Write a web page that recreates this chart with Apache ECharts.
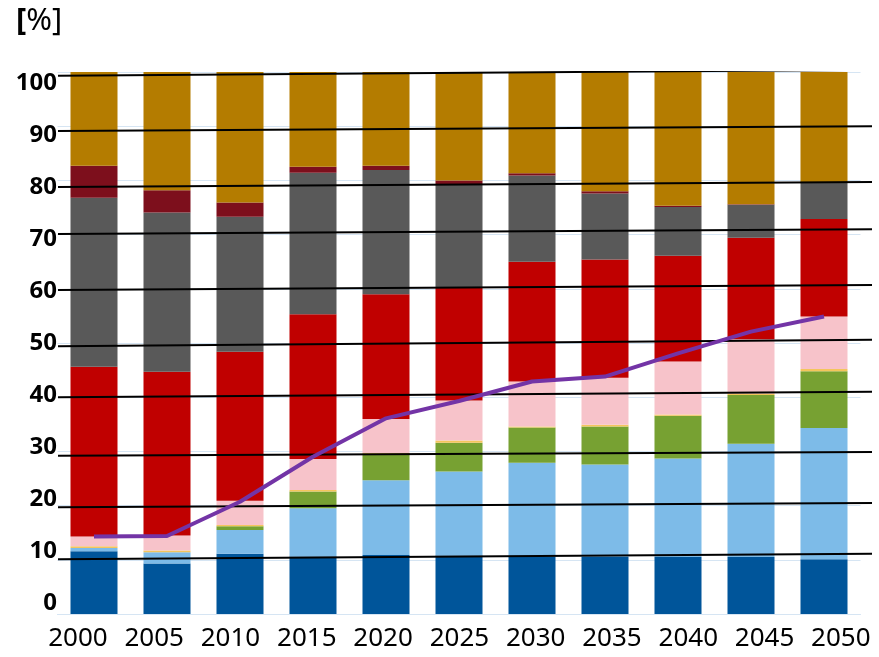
<!DOCTYPE html>
<html>
<head>
<meta charset="utf-8">
<script src="https://cdn.jsdelivr.net/npm/echarts@6/dist/echarts.min.js"></script>
<style>html,body{margin:0;padding:0;background:#fff}#c{width:879px;height:657px}</style>
</head>
<body>
<div id="c"></div>
<script>
var years = ['2000','2005','2010','2015','2020','2025','2030','2035','2040','2045','2050'];
var yTicks = ['0','10','20','30','40','50','60','70','80','90','100'];
var darkBlue  = [11.6, 9.3, 11.1, 10.6, 10.9, 10.8, 10.6, 10.5, 10.5, 10.5, 10.1];
var lightBlue = [0.6, 2.1, 4.4, 8.9, 13.8, 15.5, 17.3, 17.1, 18.2, 20.9, 24.2];
var green     = [0, 0, 0.7, 3.1, 4.8, 5.3, 6.5, 7.0, 7.9, 9.0, 10.5];
var yellow    = [0.3, 0.3, 0.2, 0.3, 0.2, 0.4, 0.2, 0.3, 0.2, 0.3, 0.4];
var pink      = [1.8, 2.8, 4.5, 5.7, 6.3, 7.4, 8.3, 8.7, 9.8, 10.0, 9.7];
var red       = [31.3, 30.2, 27.5, 26.7, 23.0, 20.9, 22.1, 21.8, 19.5, 18.7, 18.0];
var gray      = [31.2, 29.4, 24.9, 26.1, 22.9, 19.0, 15.9, 12.2, 9.0, 6.1, 6.6];
var darkRed   = [5.9, 4.1, 2.6, 1.1, 0.8, 0.7, 0.4, 0.4, 0.2, 0.1, 0.1];
var gold      = [17.3, 21.8, 24.1, 17.5, 17.3, 20.0, 18.7, 22.0, 24.7, 24.4, 20.4];
var purpleLine = [14.3, 14.4, 20.7, 29.0, 36.1, 39.3, 42.9, 43.8, 48.1, 52.1, 54.9];
// hand-drawn black reference lines: value at left end and at right end
var refLeft  = [10.1, 19.7, 29.2, 40.0, 49.4, 59.8, 70.1, 78.8, 89.1, 99.3];
var refRight = [11.1, 20.5, 29.9, 41.0, 50.6, 60.7, 71.0, 79.7, 90.0, 100.4];

var layers = [
  {name:'a', data:darkBlue,  color:'#00559a'},
  {name:'b', data:lightBlue, color:'#7dbbe8'},
  {name:'c', data:green,     color:'#77a132'},
  {name:'d', data:yellow,    color:'#f4c55c'},
  {name:'e', data:pink,      color:'#f7c3ca'},
  {name:'f', data:red,       color:'#c00000'},
  {name:'g', data:gray,      color:'#595959'},
  {name:'h', data:darkRed,   color:'#7d0f1c'},
  {name:'i', data:gold,      color:'#b47c00'}
];

var series = layers.map(function(l){
  return {type:'bar', name:l.name, stack:'total', data:l.data, barCategoryGap:'35.6%',
    itemStyle:{color:l.color}, silent:true, z:2};
});
refLeft.forEach(function(v, i){
  series.push({type:'line', xAxisIndex:3, yAxisIndex:3, data:[[0, v],[1, refRight[i]]],
    symbol:'none', silent:true, lineStyle:{color:'#000', width:2}, z:5});
});
series.push({type:'line', name:'line', data:purpleLine, symbol:'none', silent:true,
  lineStyle:{color:'#7334a6', width:4}, z:10});

var chart = echarts.init(document.getElementById('c'));
chart.setOption({
  animation:false,
  backgroundColor:'#fff',
  title:{text:'{b|[}%]', left:11, top:1,
    textStyle:{fontFamily:'Noto Sans', fontSize:31, fontWeight:'normal', color:'#000',
      rich:{b:{fontFamily:'Noto Sans', fontSize:31, fontWeight:'bold', color:'#000'}}}},
  grid:[
    {left:57.5, top:72, width:803, height:542},
    {left:60, top:83, width:10, height:520},
    {left:39.75, top:600, width:841.5, height:20},
    {left:58, top:72, width:814, height:542}
  ],
  xAxis:[
    {type:'category', gridIndex:0, data:years, axisTick:{show:false}, axisLabel:{show:false},
      axisLine:{lineStyle:{color:'#d6e5f3'}}},
    {type:'value', gridIndex:1, show:false},
    {type:'category', gridIndex:2, data:years, axisTick:{show:false}, axisLine:{show:false},
      axisLabel:{interval:0, hideOverlap:false, fontFamily:'Noto Sans', fontSize:26, color:'#000',
        margin:19, verticalAlign:'middle'}},
    {type:'value', gridIndex:3, min:0, max:1, show:false}
  ],
  yAxis:[
    {type:'value', gridIndex:0, min:0, max:100, interval:10, axisLabel:{show:false},
      axisLine:{show:false}, axisTick:{show:false},
      splitLine:{lineStyle:{color:'#d6e5f3', width:1}}},
    {type:'value', gridIndex:1, min:0, max:100, interval:10, axisLine:{show:false},
      axisTick:{show:false}, splitLine:{show:false},
      axisLabel:{fontFamily:'Noto Sans', fontSize:24, fontWeight:'bold', color:'#000', margin:3,
        formatter:function(v){ return yTicks[Math.round(v/10)]; }}},
    {type:'value', gridIndex:2, show:false},
    {type:'value', gridIndex:3, min:0, max:100, show:false}
  ],
  series:series
});
</script>
</body>
</html>
